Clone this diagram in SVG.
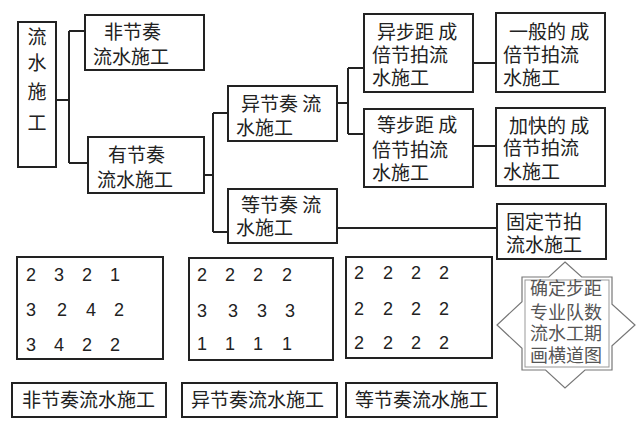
<svg xmlns="http://www.w3.org/2000/svg" width="640" height="425" viewBox="0 0 640 425">
<style>
.box{fill:#fff;stroke:#222;stroke-width:2}
.t{font-family:"Noto Sans CJK SC","Noto Sans",sans-serif;font-size:19px;fill:#222}
.d{font-family:"Liberation Sans","Noto Sans",sans-serif;font-size:18px;fill:#222;text-anchor:middle}
.c{fill:none;stroke:#222;stroke-width:2}
.st{font-family:"Noto Sans CJK SC","Noto Sans",sans-serif;font-size:18px;fill:#555}
</style>
<rect width="640" height="425" fill="#fff"/>
<g id="connectors">
<path class="c" d="M56 100H69M69 31V163M69 31H85M69 163H88"/>
<path class="c" d="M204 175H213M213 113V232M213 113H228M213 232H228"/>
<path class="c" d="M337 103H348M348 68V134M348 68H364M348 134H364"/>
<path class="c" d="M473 63H496M473 146H496M337 228H497"/>
</g>
<g id="n-root">
<rect class="box" x="18" y="22" width="38" height="145"/>
<text class="t" text-anchor="middle" x="37" y="44">流</text>
<text class="t" text-anchor="middle" x="37" y="70">水</text>
<text class="t" text-anchor="middle" x="37" y="99">施</text>
<text class="t" text-anchor="middle" x="37" y="130">工</text>
</g>
<g id="n-fei">
<rect class="box" x="85" y="15" width="119" height="55"/>
<text class="t" x="104" y="39">非节奏</text>
<text class="t" x="93" y="64">流水施工</text>
</g>
<g id="n-you">
<rect class="box" x="88" y="137" width="116" height="56"/>
<text class="t" x="108" y="162">有节奏</text>
<text class="t" x="97" y="187">流水施工</text>
</g>
<g id="n-yi">
<rect class="box" x="228" y="86" width="109" height="55"/>
<text class="t" x="241" y="111">异节奏 流</text>
<text class="t" x="236" y="135">水施工</text>
</g>
<g id="n-deng">
<rect class="box" x="228" y="189" width="109" height="54"/>
<text class="t" x="241" y="212">等节奏 流</text>
<text class="t" x="236" y="235">水施工</text>
</g>
<g id="n-yibu">
<rect class="box" x="364" y="14" width="109" height="78"/>
<text class="t" x="377" y="39">异步距 成</text>
<text class="t" x="372" y="62">倍节拍流</text>
<text class="t" x="372" y="85">水施工</text>
</g>
<g id="n-dengbu">
<rect class="box" x="364" y="109" width="109" height="78"/>
<text class="t" x="377" y="132">等步距 成</text>
<text class="t" x="372" y="157">倍节拍流</text>
<text class="t" x="372" y="180">水施工</text>
</g>
<g id="n-yiban">
<rect class="box" x="496" y="13" width="109" height="79"/>
<text class="t" x="509" y="39">一般的 成</text>
<text class="t" x="503" y="62">倍节拍流</text>
<text class="t" x="503" y="85">水施工</text>
</g>
<g id="n-jiakuai">
<rect class="box" x="496" y="108" width="109" height="78"/>
<text class="t" x="509" y="133">加快的 成</text>
<text class="t" x="503" y="155">倍节拍流</text>
<text class="t" x="503" y="179">水施工</text>
</g>
<g id="n-guding">
<rect class="box" x="497" y="204" width="109" height="55"/>
<text class="t" x="506" y="229">固定节拍</text>
<text class="t" x="506" y="252">流水施工</text>
</g>
<g id="m1">
<rect class="box" x="17" y="257" width="146" height="102"/>
<text class="d" x="31" y="281">2</text><text class="d" x="59" y="281">3</text><text class="d" x="87" y="281">2</text><text class="d" x="115" y="281">1</text>
<text class="d" x="31" y="316">3</text><text class="d" x="62" y="316">2</text><text class="d" x="91" y="316">4</text><text class="d" x="119" y="316">2</text>
<text class="d" x="31" y="351">3</text><text class="d" x="59" y="351">4</text><text class="d" x="87" y="351">2</text><text class="d" x="115" y="351">2</text>
</g>
<g id="m2">
<rect class="box" x="189" y="258" width="144" height="102"/>
<text class="d" x="202" y="281">2</text><text class="d" x="230" y="281">2</text><text class="d" x="258" y="281">2</text><text class="d" x="287" y="281">2</text>
<text class="d" x="202" y="317">3</text><text class="d" x="233" y="317">3</text><text class="d" x="262" y="317">3</text><text class="d" x="290" y="317">3</text>
<text class="d" x="202" y="350">1</text><text class="d" x="230" y="350">1</text><text class="d" x="258" y="350">1</text><text class="d" x="287" y="350">1</text>
</g>
<g id="m3">
<rect class="box" x="346" y="257" width="146" height="101"/>
<text class="d" x="359" y="279">2</text><text class="d" x="388" y="279">2</text><text class="d" x="416" y="279">2</text><text class="d" x="444" y="279">2</text>
<text class="d" x="359" y="315">2</text><text class="d" x="388" y="315">2</text><text class="d" x="416" y="315">2</text><text class="d" x="444" y="315">2</text>
<text class="d" x="359" y="349">2</text><text class="d" x="388" y="349">2</text><text class="d" x="416" y="349">2</text><text class="d" x="444" y="349">2</text>
</g>
<g id="star">
<polygon points="565,262 581.7,277 612,277 612,304.3 635,325 612,345.7 612,370 585,370 565,388 545.6,370 522,370 522,348.2 497,325 522,301.8 522,277 548.8,277" fill="#fff" stroke="#777" stroke-width="1.2"/>
<rect x="525" y="280" width="84" height="87" fill="none" stroke="#999" stroke-width="1"/>
<text class="st" x="530" y="295">确定步距</text>
<text class="st" x="530" y="319">专业队数</text>
<text class="st" x="530" y="340">流水工期</text>
<text class="st" x="530" y="362">画横道图</text>
</g>
<g id="l1">
<rect class="box" x="12" y="383" width="154" height="34"/>
<text class="t" x="22" y="407">非节奏流水施工</text>
</g>
<g id="l2">
<rect class="box" x="182" y="383" width="155" height="34"/>
<text class="t" x="191" y="407">异节奏流水施工</text>
</g>
<g id="l3">
<rect class="box" x="346" y="383" width="151" height="34"/>
<text class="t" x="355" y="407">等节奏流水施工</text>
</g>
</svg>
